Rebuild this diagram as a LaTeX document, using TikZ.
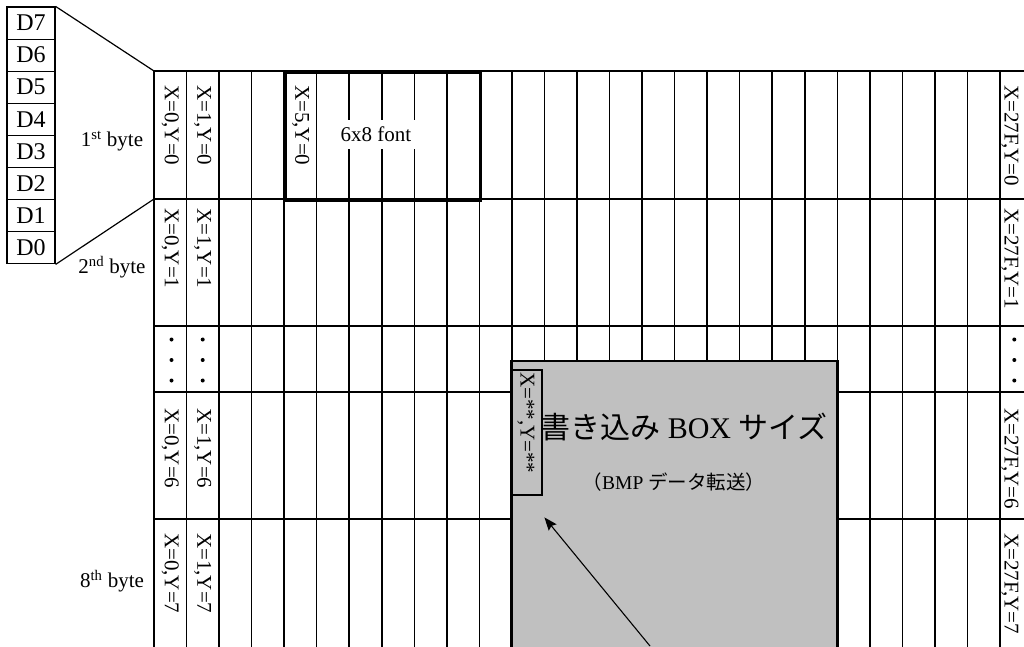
\documentclass[tikz,border=0pt]{standalone}
\usepackage{fontspec}
\setmainfont{Liberation Serif}
\newfontfamily\cjk{Noto Sans CJK JP}
\usetikzlibrary{arrows.meta,calc}
\definecolor{boxgray}{RGB}{192,192,192}
\begin{document}
\begin{tikzpicture}[x=1pt,y=-1pt,
  gridline/.style={line width=1.5pt, black},
  majorline/.style={line width=2pt, black},
  heavyline/.style={line width=2.6pt, black},
  dbox/.style={draw, line width=1.2pt, minimum width=48pt, minimum height=32.1pt, inner sep=0pt, font=\fontsize{24}{24}\selectfont},
  collabel/.style={rotate=-90, anchor=west, inner sep=0pt, font=\fontsize{21}{21}\selectfont},
  bytelabel/.style={inner sep=0pt, font=\fontsize{21}{21}\selectfont},
  dotmark/.style={circle, fill=black, inner sep=0pt, minimum size=4pt}
]
\useasboundingbox (0,0) rectangle (1024,646);
\clip (0,0) rectangle (1024,646);

% grid
\foreach \i in {0,...,27} \draw[gridline] ({154+32.538*\i},71) -- ({154+32.538*\i},660);
\foreach \yy in {71,392} \draw[gridline] (154,\yy) -- (1040,\yy);
\foreach \yy in {199,326,519} \draw[majorline] (154,\yy) -- (1040,\yy);

\coordinate (gtl) at (154,71);
\coordinate (gml) at (154,199);

% font box
\node[rectangle, fill=white, inner xsep=4pt, inner ysep=7pt, font=\fontsize{21}{21}\selectfont] (fontlbl) at (376,134) {6x8 font};
\node[rectangle, draw, line width=2.6pt, anchor=north west, minimum width=195pt, minimum height=128pt, inner sep=0pt] (fontbox) at (284,71) {};

% D boxes
\foreach \k/\n in {0/7,1/6,2/5,3/4,4/3,5/2,6/1,7/0}
  \node[dbox] (d\n) at (31,{7+32.1*(\k+0.5)}) {D\n};
\draw[line width=1.2pt] (d7.north east) -- (gtl);
\draw[line width=1.2pt] (d0.south east) -- (gml);

% byte labels
\node[bytelabel] (b1) at (112,141) {1\textsuperscript{st} byte};
\node[bytelabel] (b2) at (112,267) {2\textsuperscript{nd} byte};
\node[bytelabel] (b8) at (112,581) {8\textsuperscript{th} byte};

% column labels
\node[collabel] (c00) at (170.3,85) {X=0,Y=0};
\node[collabel] (c10) at (202.8,85) {X=1,Y=0};
\node[collabel] (c50) at (300.7,85) {X=5,Y=0};
\node[collabel] (cl0) at (1010,85) {X=27F,Y=0};
\node[collabel] (c01) at (170.3,208) {X=0,Y=1};
\node[collabel] (c11) at (202.8,208) {X=1,Y=1};
\node[collabel] (cl1) at (1010,208) {X=27F,Y=1};
\node[collabel] (c06) at (170.3,408) {X=0,Y=6};
\node[collabel] (c16) at (202.8,408) {X=1,Y=6};
\node[collabel] (cl6) at (1010,408) {X=27F,Y=6};
\node[collabel] (c07) at (170.3,533) {X=0,Y=7};
\node[collabel] (c17) at (202.8,533) {X=1,Y=7};
\node[collabel] (cl7) at (1010,533) {X=27F,Y=7};

% dots
\foreach \xx in {171.5,202.7,1014.3}
  \foreach \yy in {339.5,360,380.5}
    \node[dotmark] at (\xx,\yy) {};

% write box
\draw[heavyline, fill=boxgray] (511.5,361) rectangle (837.5,670);
\node[draw, line width=2.4pt, anchor=north west, minimum width=30pt, minimum height=125pt, inner sep=0pt] (xy) at (511,369) {};
\node[collabel, font=\fontsize{21}{21}\selectfont] (xyt) at (526,372) {X=**,Y=**};
\node[inner sep=0pt, font=\fontsize{30}{30}\selectfont] (title) at (684,427) {{\cjk 書き込み} BOX {\cjk サイズ}};
\node[inner sep=0pt, font=\fontsize{19.5}{19.5}\selectfont] (sub) at (674,482) {{\cjk （}BMP {\cjk データ転送）}};

\coordinate (atail) at (650,646);
\draw[line width=1.1pt, -{Stealth[length=13pt,width=10pt,inset=2pt]}] (atail) -- ([shift={(1,21)}]xy.south east);
\end{tikzpicture}
\end{document}
